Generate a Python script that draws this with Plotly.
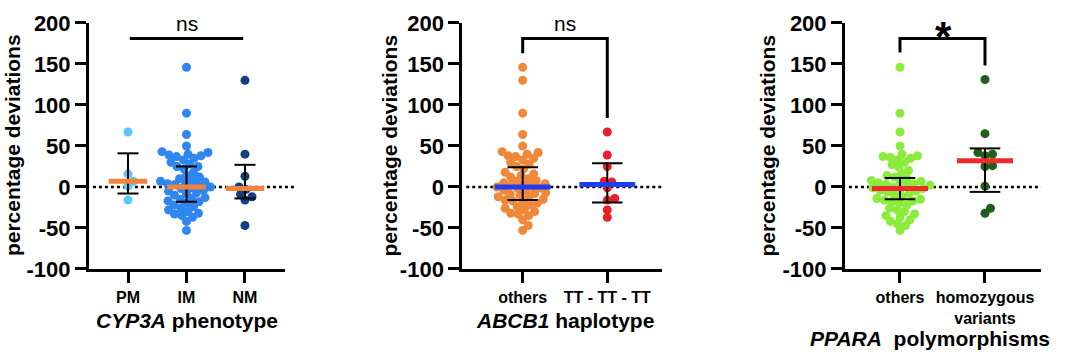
import plotly.graph_objects as go

# ---------------- data ----------------
cyp_categories = ["PM", "IM", "NM"]
cyp_pm = [67, 16, 7, 1, -16]
cyp_im = [146, 90, 64, 50, 43, 42, 40, 39, 38, 37, 35, 33, 30, 28, 25, 25, 22, 18,
          14, 12, 10, 8, 7, 6, 5, 4, 3, 2, 0, -1, -2, -4, -5, -7, -8, -10, -13, -14,
          -15, -17, -18, -20, -22, -24, -26, -28, -30, -32, -33, -35, -37, -42, -53]
cyp_nm = [130, 40, 13, 0, -3, -9, -12, -16, -47]
cyp_median = [7, 0, -2]
cyp_q1 = [-8, -18, -14]
cyp_q3 = [41, 25, 27]

abcb_categories = ["others", "TT - TT - TT"]
abcb_others = [146, 130, 90, 64, 50, 43, 42, 40, 38, 37, 35, 33, 30, 28, 25, 22, 18,
               16, 14, 12, 10, 8, 7, 5, 4, 3, 2, 1, 0, -1, -2, -4, -5, -7, -8, -9,
               -10, -12, -13, -15, -16, -17, -18, -20, -22, -24, -26, -28, -30, -32,
               -33, -35, -40, -47, -53]
abcb_tt = [67, 39, 25, 7, 6, -1, -14, -16, -28, -37]
abcb_median = [0, 3]
abcb_q1 = [-16, -19]
abcb_q3 = [24, 29]

ppara_categories = ["others", "homozygous<br>variants"]
ppara_others = [146, 90, 67, 50, 40, 38, 37, 36, 35, 33, 30, 27, 24, 20, 16, 14, 12,
                10, 8, 7, 6, 5, 4, 3, 2, 1, 0, -1, -2, -3, -4, -5, -6, -8, -10, -12,
                -14, -15, -16, -17, -18, -20, -22, -26, -28, -30, -33, -35, -37, -40,
                -42, -45, -47, -53]
ppara_homo = [131, 65, 42, 40, 38, 26, 25, 1, -26, -32]
ppara_median = [-2, 32]
ppara_q1 = [-15, -6]
ppara_q3 = [11, 47]

y_ticks = [-100, -50, 0, 50, 100, 150, 200]
y_tick_labels = ["-100", "-50", "0", "50", "100", "150", "200"]
sig_labels = ["ns", "ns", "*"]

# ---------------- layout geometry ----------------
W, H = 1065, 363
Y_DOM = [1 - 276 / H, 1 - 11.7 / H]
PX_PER_Y = (276 - 11.7) / 300.0

panels = [
    dict(dom=[89 / W, 285 / W], rng=[-0.667, 2.684], unit=58.5, zx1=1.05,
         groups=[cyp_pm, cyp_im, cyp_nm], cats=cyp_categories,
         colors=["#5cc8f7", "#2f86ee", "#133f83"], medcol="#f0843c",
         med=cyp_median, q1=cyp_q1, q3=cyp_q3),
    dict(dom=[462.3 / W, 662 / W], rng=[-0.714, 1.647], unit=84.6, zx1=1.0,
         groups=[abcb_others, abcb_tt], cats=abcb_categories,
         colors=["#f0883a", "#e8202a"], medcol="#1c3cf5",
         med=abcb_median, q1=abcb_q1, q3=abcb_q3),
    dict(dom=[845 / W, 1041 / W], rng=[-0.647, 1.659], unit=85, zx1=1.0,
         groups=[ppara_others, ppara_homo], cats=ppara_categories,
         colors=["#8cec3c", "#215e1b"], medcol="#ee2a2e",
         med=ppara_median, q1=ppara_q1, q3=ppara_q3),
]


def swarm(vals, px_x, px_y=PX_PER_Y, d=7.4):
    """simple beeswarm: horizontal offsets (in category units)"""
    placed = []
    offs = [0.0] * len(vals)
    order = sorted(range(len(vals)), key=lambda i: vals[i])
    for i in order:
        y = vals[i] * px_y
        chosen = 0.0
        for k in range(0, 400):
            cands = [0.0] if k == 0 else [k * 0.5, -k * 0.5]
            ok = None
            for x in cands:
                if all((x - px) ** 2 + (y - py) ** 2 >= d * d for px, py in placed):
                    ok = x
                    break
            if ok is not None:
                chosen = ok
                break
        placed.append((chosen, y))
        offs[i] = chosen / px_x
    return offs


fig = go.Figure()
FAM = "Liberation Sans, Arial, sans-serif"
BOLD = dict(family=FAM, color="black", weight="bold")

for p_i, p in enumerate(panels):
    sfx = "" if p_i == 0 else str(p_i + 1)
    xa, ya = "x" + sfx, "y" + sfx
    # points
    for g_i, vals in enumerate(p["groups"]):
        offs = swarm(vals, p["unit"])
        fig.add_trace(go.Scatter(
            x=[g_i + o for o in offs], y=vals, mode="markers",
            marker=dict(size=9, color=p["colors"][g_i], line=dict(width=0)),
            xaxis=xa, yaxis=ya, showlegend=False, hoverinfo="y"))
    # error bars (interquartile range)
    ex, ey = [], []
    cap = 0.18
    for g_i in range(len(p["groups"])):
        lo, hi = p["q1"][g_i], p["q3"][g_i]
        ex += [g_i, g_i, None, g_i - cap, g_i + cap, None, g_i - cap, g_i + cap, None]
        ey += [lo, hi, None, lo, lo, None, hi, hi, None]
    fig.add_trace(go.Scatter(x=ex, y=ey, mode="lines",
                             line=dict(color="black", width=2),
                             xaxis=xa, yaxis=ya, showlegend=False, hoverinfo="skip"))
    # medians
    mx, my = [], []
    half = 0.33
    for g_i in range(len(p["groups"])):
        mx += [g_i - half, g_i + half, None]
        my += [p["med"][g_i], p["med"][g_i], None]
    fig.add_trace(go.Scatter(x=mx, y=my, mode="lines",
                             line=dict(color=p["medcol"], width=5),
                             xaxis=xa, yaxis=ya, showlegend=False, hoverinfo="skip"))
    # dotted zero line
    fig.add_shape(type="line", xref=xa + " domain", yref=ya, x0=0.02, x1=p["zx1"],
                  y0=0, y1=0, line=dict(color="black", width=2.5, dash="dot"),
                  layer="below")

    axis_x = dict(domain=p["dom"], range=p["rng"], anchor=ya,
                  tickmode="array", tickvals=list(range(len(p["cats"]))),
                  ticktext=p["cats"], showline=True, linewidth=3, linecolor="black",
                  ticks="outside", ticklen=11, tickwidth=3, tickcolor="black",
                  showgrid=False, zeroline=False, ticklabeloverflow="allow",
                  ticklabelstandoff=1,
                  tickfont=dict(size=16, **BOLD))
    axis_y = dict(domain=Y_DOM, range=[-100, 200], anchor=xa,
                  tickmode="array", tickvals=y_ticks, ticktext=y_tick_labels,
                  showline=True, linewidth=3, linecolor="black",
                  ticks="outside", ticklen=11, tickwidth=3, tickcolor="black",
                  showgrid=False, zeroline=False, ticklabeloverflow="allow",
                  tickfont=dict(size=22, **BOLD))
    fig.update_layout(**{"xaxis" + sfx: axis_x, "yaxis" + sfx: axis_y})

# significance markers
fig.add_shape(type="line", xref="x", yref="y", x0=0.03, x1=1.97, y0=181, y1=181,
              line=dict(color="black", width=3))
fig.add_shape(type="path", xref="x2", yref="y2",
              path="M 0,163 L 0,181 L 1,181 L 1,84", line=dict(color="black", width=3))
fig.add_shape(type="path", xref="x3", yref="y3",
              path="M 0,164 L 0,181 L 1,181 L 1,148", line=dict(color="black", width=3))

ann = []
for lab, xp in zip(sig_labels[:2], [187, 565]):
    ann.append(dict(text=lab, xref="paper", yref="paper", x=xp / W, y=1 - 12 / H,
                    xanchor="center", yanchor="middle", showarrow=False,
                    font=dict(size=21, family=FAM, color="black")))
ann.append(dict(text=sig_labels[2], xref="paper", yref="paper", x=943 / W, y=1.0,
                xanchor="center", yanchor="top", showarrow=False, borderpad=0,
                font=dict(size=42, **BOLD)))

# axis titles
titles = [("<i>CYP3A</i> phenotype", 187, 331),
          ("<i>ABCB1</i> haplotype", 565, 331),
          ("<i>PPARA</i>\u00a0 polymorphisms", 929.5, 351)]
for t, xp, yp in titles:
    ann.append(dict(text=t, xref="paper", yref="paper", x=xp / W, y=1 - yp / H,
                    xanchor="center", yanchor="middle", showarrow=False,
                    font=dict(size=21, **BOLD)))
for xp in [12.5, 390, 768]:
    ann.append(dict(text="percentage deviations", xref="paper", yref="paper",
                    x=xp / W, y=1 - 143.5 / H, xanchor="center", yanchor="middle",
                    textangle=-90, showarrow=False, font=dict(size=21, **BOLD)))

fig.update_layout(width=W, height=H, margin=dict(l=0, r=0, t=0, b=0),
                  paper_bgcolor="white", plot_bgcolor="white",
                  annotations=ann, showlegend=False)

fig.write_html("out.html", config={"displayModeBar": False},
               post_script="document.body.style.margin='0';document.body.style.overflow='hidden';")
